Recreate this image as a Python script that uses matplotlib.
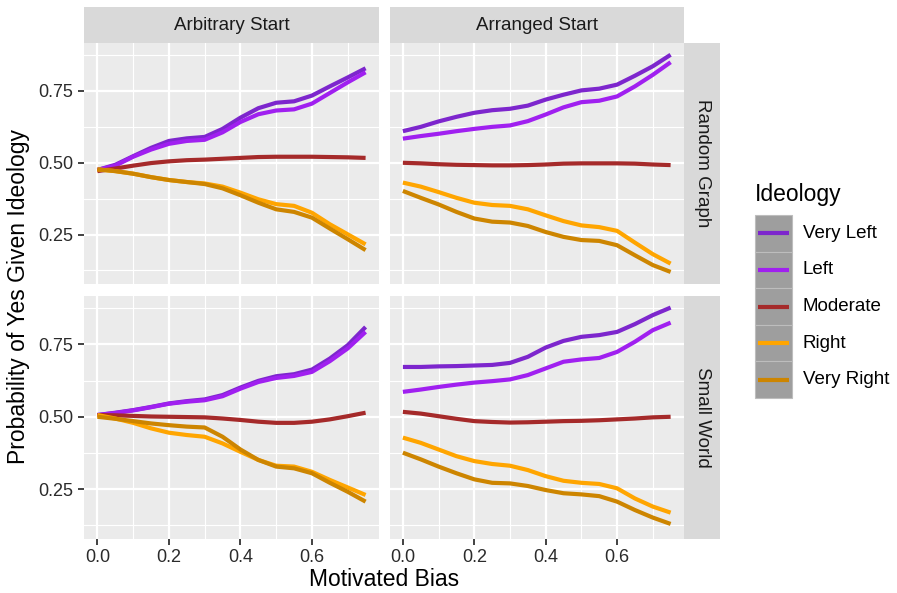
import matplotlib
matplotlib.use("Agg")
import matplotlib.pyplot as plt
from matplotlib.lines import Line2D
from matplotlib.patches import Rectangle

plt.rcParams['font.family'] = ['Liberation Sans', 'DejaVu Sans']

# ---------------- data ----------------
bias = [0.00, 0.05, 0.10, 0.15, 0.20, 0.25, 0.30, 0.35, 0.40, 0.45, 0.50, 0.55, 0.60, 0.65, 0.70, 0.75]

ideologies = ["Very Left", "Left", "Moderate", "Right", "Very Right"]
colors = ["#7D26CD", "#A020F0", "#A52A2A", "#FFA500", "#CD8500"]

starts = ["Arbitrary Start", "Arranged Start"]
graphs = ["Random Graph", "Small World"]

# Random Graph / Arbitrary Start
rg_arb_very_left  = [0.475, 0.493, 0.523, 0.552, 0.576, 0.585, 0.590, 0.618, 0.657, 0.690, 0.709, 0.714, 0.734, 0.766, 0.797, 0.829]
rg_arb_left       = [0.475, 0.490, 0.521, 0.546, 0.566, 0.576, 0.580, 0.606, 0.642, 0.669, 0.682, 0.686, 0.706, 0.743, 0.780, 0.815]
rg_arb_moderate   = [0.471, 0.480, 0.490, 0.499, 0.505, 0.509, 0.511, 0.514, 0.517, 0.520, 0.521, 0.521, 0.521, 0.520, 0.519, 0.517]
rg_arb_right      = [0.477, 0.471, 0.462, 0.450, 0.440, 0.433, 0.428, 0.417, 0.396, 0.373, 0.356, 0.350, 0.326, 0.286, 0.251, 0.216]
rg_arb_very_right = [0.477, 0.471, 0.462, 0.450, 0.440, 0.433, 0.426, 0.411, 0.387, 0.361, 0.338, 0.329, 0.309, 0.271, 0.234, 0.196]

# Random Graph / Arranged Start
rg_arr_very_left  = [0.610, 0.625, 0.644, 0.660, 0.674, 0.683, 0.688, 0.699, 0.720, 0.737, 0.752, 0.758, 0.772, 0.803, 0.836, 0.876]
rg_arr_left       = [0.584, 0.593, 0.601, 0.610, 0.618, 0.625, 0.630, 0.645, 0.668, 0.693, 0.711, 0.716, 0.731, 0.766, 0.806, 0.850]
rg_arr_moderate   = [0.500, 0.498, 0.495, 0.493, 0.492, 0.491, 0.491, 0.492, 0.494, 0.497, 0.498, 0.498, 0.498, 0.497, 0.494, 0.492]
rg_arr_right      = [0.431, 0.417, 0.398, 0.378, 0.361, 0.353, 0.350, 0.338, 0.317, 0.297, 0.282, 0.276, 0.263, 0.222, 0.182, 0.149]
rg_arr_very_right = [0.402, 0.378, 0.355, 0.329, 0.306, 0.295, 0.292, 0.280, 0.259, 0.242, 0.231, 0.228, 0.213, 0.178, 0.144, 0.120]

# Small World / Arbitrary Start
sw_arb_very_left  = [0.506, 0.514, 0.523, 0.534, 0.546, 0.554, 0.560, 0.575, 0.601, 0.624, 0.640, 0.647, 0.663, 0.701, 0.747, 0.810]
sw_arb_left       = [0.506, 0.513, 0.522, 0.533, 0.545, 0.552, 0.557, 0.571, 0.597, 0.620, 0.634, 0.641, 0.655, 0.692, 0.736, 0.793]
sw_arb_moderate   = [0.506, 0.505, 0.503, 0.501, 0.500, 0.499, 0.498, 0.494, 0.489, 0.483, 0.479, 0.479, 0.483, 0.491, 0.502, 0.514]
sw_arb_right      = [0.506, 0.494, 0.479, 0.460, 0.445, 0.437, 0.431, 0.408, 0.379, 0.351, 0.331, 0.328, 0.310, 0.282, 0.256, 0.230]
sw_arb_very_right = [0.500, 0.493, 0.485, 0.477, 0.471, 0.466, 0.463, 0.431, 0.387, 0.351, 0.328, 0.322, 0.305, 0.272, 0.241, 0.207]

# Small World / Arranged Start
sw_arr_very_left  = [0.672, 0.672, 0.674, 0.675, 0.677, 0.679, 0.686, 0.707, 0.739, 0.762, 0.776, 0.782, 0.793, 0.820, 0.851, 0.877]
sw_arr_left       = [0.586, 0.594, 0.603, 0.611, 0.618, 0.623, 0.629, 0.644, 0.667, 0.690, 0.698, 0.703, 0.724, 0.759, 0.799, 0.825]
sw_arr_moderate   = [0.517, 0.511, 0.502, 0.493, 0.485, 0.482, 0.480, 0.481, 0.483, 0.485, 0.486, 0.488, 0.491, 0.494, 0.498, 0.500]
sw_arr_right      = [0.428, 0.410, 0.387, 0.364, 0.347, 0.337, 0.331, 0.316, 0.295, 0.279, 0.272, 0.268, 0.253, 0.218, 0.190, 0.169]
sw_arr_very_right = [0.376, 0.353, 0.328, 0.305, 0.284, 0.272, 0.270, 0.261, 0.247, 0.236, 0.232, 0.226, 0.207, 0.178, 0.152, 0.130]

panels = {
    ("Random Graph", "Arbitrary Start"): [rg_arb_very_left, rg_arb_left, rg_arb_moderate, rg_arb_right, rg_arb_very_right],
    ("Random Graph", "Arranged Start"):  [rg_arr_very_left, rg_arr_left, rg_arr_moderate, rg_arr_right, rg_arr_very_right],
    ("Small World", "Arbitrary Start"):  [sw_arb_very_left, sw_arb_left, sw_arb_moderate, sw_arb_right, sw_arb_very_right],
    ("Small World", "Arranged Start"):   [sw_arr_very_left, sw_arr_left, sw_arr_moderate, sw_arr_right, sw_arr_very_right],
}

x_major = [0.0, 0.2, 0.4, 0.6]
x_minor = [0.1, 0.3, 0.5, 0.7]
x_labels = ["0.0", "0.2", "0.4", "0.6"]
y_major = [0.25, 0.50, 0.75]
y_minor = [0.125, 0.375, 0.625, 0.875]
y_labels = ["0.25", "0.50", "0.75"]

# ---------------- layout ----------------
W, H = 897, 593
fig = plt.figure(figsize=(W / 100, H / 100), dpi=100)
fig.patch.set_facecolor("white")

def fx(px):
    return px / W

def fy(py):
    return 1 - py / H

col_x = [(84, 379), (389.5, 684)]
row_y = [(43, 284), (296, 539)]
strip_top = (7, 43)
strip_right = (684, 720)

TICK_FS = 13.0
TITLE_FS = 16.5
STRIP_FS = 13.5
LEG_FS = 13.5

for r, g in enumerate(graphs):
    for c, s in enumerate(starts):
        x0, x1 = col_x[c]
        y0, y1 = row_y[r]
        ax = fig.add_axes([fx(x0), fy(y1), fx(x1 - x0), (y1 - y0) / H])
        ax.set_facecolor("#EBEBEB")
        for sp in ax.spines.values():
            sp.set_visible(False)
        ax.set_xlim(-0.0375, 0.7875)
        ax.set_ylim(0.078, 0.917)
        ax.set_xticks(x_major)
        ax.set_xticks(x_minor, minor=True)
        ax.set_yticks(y_major)
        ax.set_yticks(y_minor, minor=True)
        ax.grid(which="major", color="white", linewidth=1.6)
        ax.grid(which="minor", color="white", linewidth=0.8)
        ax.set_axisbelow(True)
        ax.tick_params(which="minor", length=0)
        ax.tick_params(which="major", length=4.5, width=1.3, color="#333333",
                       labelsize=TICK_FS, labelcolor="#2B2B2B", pad=3)
        if c == 0:
            ax.set_yticklabels(y_labels)
        else:
            ax.tick_params(axis="y", which="major", left=False, labelleft=False)
        if r == 1:
            ax.set_xticklabels(x_labels)
        else:
            ax.tick_params(axis="x", which="major", bottom=False, labelbottom=False)

        for vals, col in zip(panels[(g, s)], colors):
            ax.plot(bias, vals, color=col, linewidth=3.0, solid_capstyle="butt",
                    solid_joinstyle="round")

        # top strip
        if r == 0:
            sax = fig.add_axes([fx(x0), fy(strip_top[1]), fx(x1 - x0), (strip_top[1] - strip_top[0]) / H])
            sax.set_facecolor("#D9D9D9")
            sax.set_xticks([]); sax.set_yticks([])
            for sp in sax.spines.values():
                sp.set_visible(False)
            sax.text(0.5, 0.5, s, ha="center", va="center", fontsize=STRIP_FS,
                     color="#1A1A1A", transform=sax.transAxes)
        # right strip
        if c == 1:
            rax = fig.add_axes([fx(strip_right[0]), fy(y1), fx(strip_right[1] - strip_right[0]), (y1 - y0) / H])
            rax.set_facecolor("#D9D9D9")
            rax.set_xticks([]); rax.set_yticks([])
            for sp in rax.spines.values():
                sp.set_visible(False)
            rax.text(0.5, 0.5, g, ha="center", va="center", fontsize=STRIP_FS,
                     color="#1A1A1A", rotation=-90, transform=rax.transAxes)

# axis titles
fig.text(fx(384), fy(579), "Motivated Bias", ha="center", va="center",
         fontsize=TITLE_FS, color="black")
fig.text(fx(19), fy(296), "Probability of Yes Given Ideology", ha="center",
         va="center", rotation=90, fontsize=TITLE_FS, color="black")

# legend
fig.text(fx(755), fy(194), "Ideology", ha="left", va="center", fontsize=TITLE_FS, color="black")
key_x0, key_x1 = 755, 792
key_top = 215
key_h = 36.6
lax = fig.add_axes([0, 0, 1, 1], facecolor="none")
lax.set_xlim(0, W)
lax.set_ylim(H, 0)
lax.axis("off")
for i, (lab, col) in enumerate(zip(ideologies, colors)):
    yt = key_top + i * key_h
    lax.add_patch(Rectangle((key_x0, yt), key_x1 - key_x0, key_h, facecolor="#9E9E9E",
                            edgecolor="#BDBDBD", linewidth=0.8))
    yc = yt + key_h / 2
    lax.add_line(Line2D([key_x0 + 3, key_x1 - 3], [yc, yc], color=col, linewidth=3.0,
                        solid_capstyle="butt"))
    lax.text(803, yc, lab, ha="left", va="center", fontsize=LEG_FS, color="black")

fig.savefig("out.png", dpi=100)
